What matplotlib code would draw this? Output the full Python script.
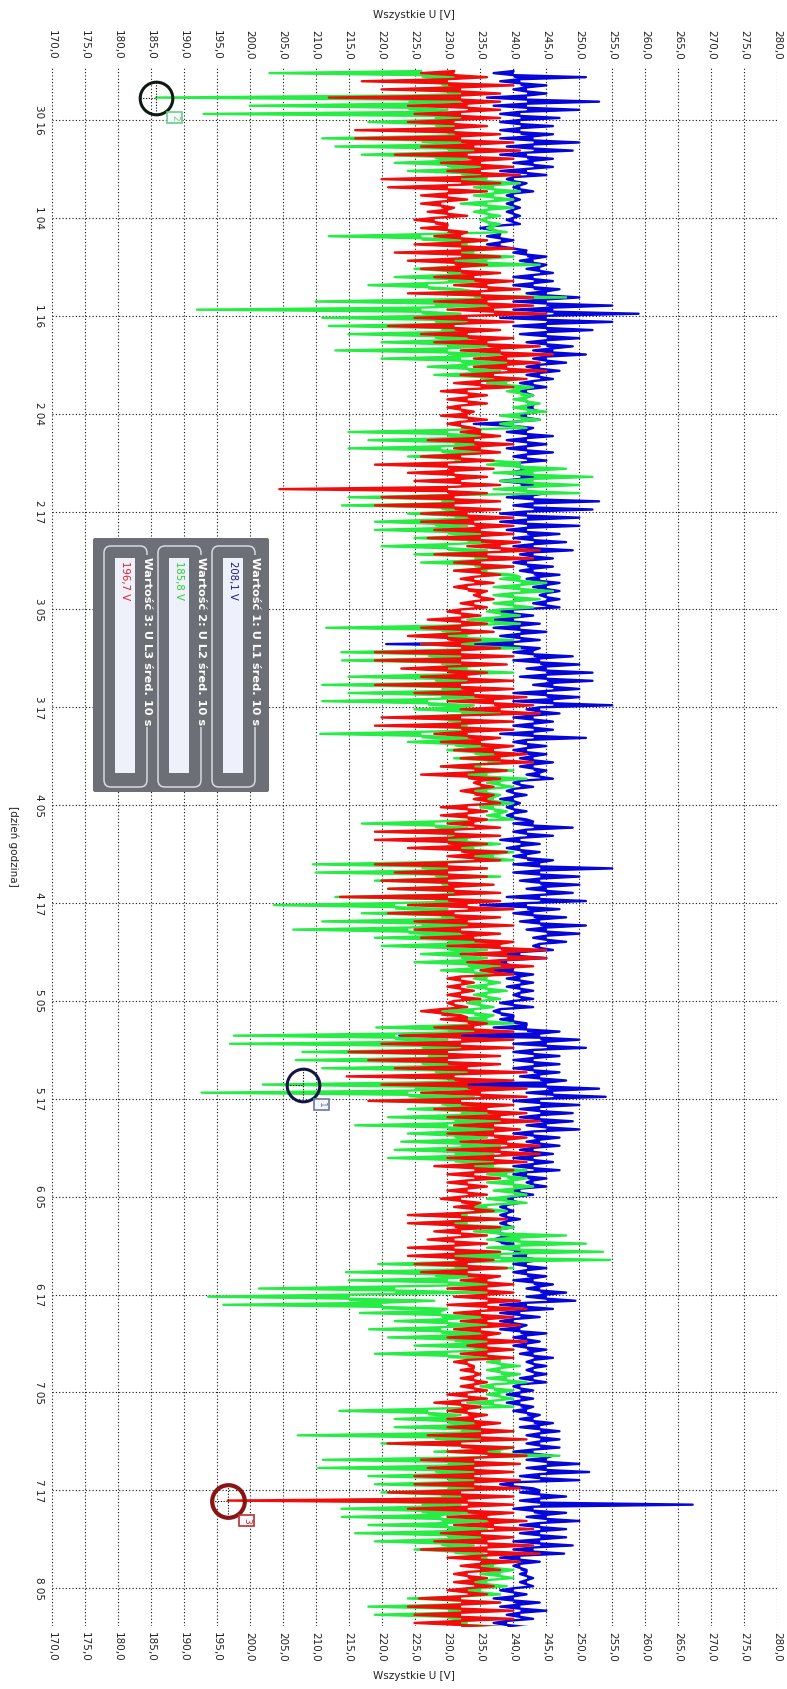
import numpy as np
import matplotlib
matplotlib.use("Agg")
import matplotlib.pyplot as plt
from matplotlib.patches import FancyBboxPatch, Rectangle
from matplotlib.transforms import Affine2D

# ---------------------------------------------------------------------------
# 10 s averaged phase voltages per hour (hours counted from "30 16"):
# minimum, typical level and maximum of each phase
# ---------------------------------------------------------------------------
hours = list(range(-6, 185))

u1_min = [237, 238, 240, 236, 237, 238, 238, 238, 238, 239, 238, 240,
          238, 239, 240, 239, 239, 239, 239, 235, 236, 236, 240, 241,
          242, 240, 240, 242, 240, 240, 238, 240, 241, 242, 243, 243,
          242, 242, 241, 241, 241, 242, 240, 234, 239, 239, 239, 240,
          239, 239, 238, 240, 239, 240, 238, 238, 239, 240, 240, 241,
          240, 241, 242, 243, 244, 243, 237, 236, 237, 238, 220.7, 240,
          240, 242, 241, 243, 240, 240, 242, 240, 240, 238, 240, 240,
          241, 241, 242, 240, 239, 238, 239, 239, 240, 240, 238, 239,
          240, 240, 240, 241, 242, 239, 235, 240, 241, 242, 243, 243,
          238, 237, 237, 239, 239, 240, 238, 237, 238, 237, 222.7, 240,
          240, 240, 240, 241, 208.1, 242, 240, 241, 241, 242, 240, 242,
          241, 240, 240, 240, 242, 240, 239, 238, 238, 238, 236, 237,
          238, 240, 240, 240, 240, 242, 242, 238, 238, 238, 238, 240,
          240, 241, 242, 242, 241, 240, 239, 239, 240, 241, 241, 242,
          242, 240, 242, 242, 241, 238, 241, 241, 240, 242, 241, 241,
          240, 240, 238, 240, 241, 241, 238, 237, 238, 239, 237]
u1_mid = [240, 241, 242, 242, 242, 241, 241, 241, 243, 243, 242, 243,
          242, 240, 241, 240, 240, 240, 240, 237, 238, 238, 242, 243,
          244, 243, 243, 245, 245, 246, 245, 245, 245, 245, 246, 245,
          244, 244, 243, 242, 242, 243, 242, 240, 242, 242, 242, 242,
          241, 241, 241, 242, 243, 243, 242, 242, 242, 243, 243, 243,
          242, 243, 244, 245, 245, 245, 240, 240, 241, 241, 240, 243,
          244, 245, 245, 246, 245, 246, 244, 243, 243, 243, 242, 242,
          243, 243, 244, 241, 240, 240, 240, 240, 243, 242, 241, 241,
          242, 244, 244, 244, 245, 244, 242, 243, 244, 245, 245, 244,
          241, 239, 240, 241, 241, 241, 240, 238, 240, 242, 244, 245,
          243, 243, 243, 244, 245, 246, 244, 244, 244, 245, 243, 244,
          243, 243, 243, 242, 243, 241, 240, 239, 239, 239, 238, 238,
          240, 242, 242, 242, 243, 244, 245, 242, 241, 240, 241, 242,
          242, 243, 243, 243, 243, 241, 241, 241, 242, 243, 244, 244,
          244, 243, 245, 245, 244, 240, 244, 244, 243, 245, 244, 244,
          244, 243, 241, 241, 242, 242, 240, 240, 241, 241, 239]
u1_max = [251, 245, 245, 253, 250, 247, 246, 246, 250, 249, 246, 246,
          245, 242, 243, 241, 241, 241, 241, 238, 240, 240, 245, 245,
          246, 246, 247, 250, 255, 259, 255, 252, 250, 249, 251, 248,
          247, 246, 245, 243, 243, 244, 244, 243, 246, 245, 246, 245,
          244, 244, 244, 245, 253, 252, 250, 250, 247, 248, 249, 246,
          246, 247, 247, 247, 247, 247, 243, 244, 245, 244, 244, 249,
          250, 252, 252, 250, 250, 255, 247, 246, 246, 251, 245, 245,
          246, 245, 246, 243, 242, 241, 242, 242, 249, 246, 244, 244,
          246, 255, 250, 250, 249, 251, 247, 248, 251, 250, 248, 246,
          245, 240, 243, 243, 243, 243, 243, 240, 242, 247, 250, 251,
          247, 247, 247, 248, 253, 254, 250, 249, 249, 250, 247, 247,
          246, 246, 247, 245, 245, 243, 241, 240, 241, 240, 240, 240,
          242, 244, 245, 245, 246, 248, 249.4, 246, 244, 242, 245, 244,
          245, 246, 245, 245, 245, 243, 243, 243, 244, 246, 247, 247,
          247, 246, 250, 251.5, 250, 243, 248, 267.2, 248, 250, 248, 248,
          249, 247.7, 244, 242, 243, 243, 242, 244, 245, 243, 242]

u2_min = [203, 222, 223, 185.8, 200, 193, 218, 221, 211, 213, 217, 222,
          224, 231, 234, 234, 232, 234, 235, 236, 212, 228, 229, 230,
          225, 222, 218, 227, 210, 192, 211, 212, 215, 220, 213, 220,
          227, 228, 236, 239, 240, 240, 238, 238, 215, 218, 215, 224,
          236, 237, 238, 237, 215, 214, 224, 219, 219, 225, 220, 225,
          226, 231, 238, 237, 237, 237, 236, 233, 211.6, 225, 226, 213.9,
          214, 224, 215, 211, 215, 211, 225, 223, 227, 210.7, 224, 230,
          231, 229, 228, 236, 234, 234, 235, 236, 217, 222, 227, 226,
          233, 209.6, 210, 219, 221, 213, 203.7, 217, 211, 206.6, 219, 220,
          226, 225, 229, 234, 233, 234, 233, 229, 230, 219.2, 197.6, 197,
          208, 207, 211, 220, 202, 192.7, 219, 224, 221, 216, 224, 223,
          222, 221, 230, 236, 236, 237, 236, 233, 226, 225, 234, 236,
          236, 226, 219.5, 214.6, 215, 201.4, 193.7, 196, 216.7, 222, 218.1, 221,
          225, 219, 236, 236, 236, 235, 236, 233, 213.6, 222, 222, 207.3,
          220, 228, 211.1, 210.4, 218, 219, 220, 210, 213.9, 214, 218, 216,
          219, 225, 233, 234, 235, 233, 232, 224, 218, 219, 228]
u2_mid = [226, 229, 230, 224, 224, 228, 228, 230, 226, 230, 228, 230,
          232, 236, 237, 237, 236, 236, 236, 237, 226, 233, 234, 236,
          230, 230, 227, 234, 228, 226, 228, 229, 228, 230, 230, 232,
          233, 235, 239, 241, 242, 242, 241, 240, 230, 231, 229, 231,
          241, 243, 243, 242, 229, 229, 231, 228, 230, 233, 230, 234,
          234, 236, 241, 241, 240, 240, 238, 237, 229, 233, 234, 227,
          229, 233, 228, 229, 229, 227, 232, 230, 233, 226, 231, 234,
          236, 235, 236, 238, 236, 237, 237, 238, 228, 230, 233, 234,
          237, 226, 228, 229, 230, 228, 222, 229, 226, 224, 230, 230,
          232, 233, 234, 236, 236, 236, 235, 234, 236, 230, 222, 226,
          227, 226, 228, 230, 225, 224, 229, 232, 231, 230, 231, 232,
          231, 231, 237, 239, 240, 240, 239, 236, 233, 233, 238, 241,
          241, 238, 231, 228, 230, 222, 215, 220, 229, 230, 229, 231,
          234, 230, 238, 238, 239, 237, 238, 237, 227, 230, 232, 228,
          232, 238, 230, 228, 230, 230, 229, 226, 226, 229, 230, 230,
          229, 231, 236, 237, 238, 236, 235, 232, 230, 230, 233]
u2_max = [232, 236, 236, 232, 230, 235, 234, 236, 233, 238, 233, 235,
          236, 241, 241, 240, 240, 238, 238, 239, 236, 238, 240, 244,
          234, 236, 232, 248, 236, 232, 235, 237, 234, 236, 238, 240,
          238, 241, 243, 243, 244, 245, 244, 242, 236, 238, 236, 236,
          248, 252, 250, 250, 236, 236, 236, 233, 236, 238, 236, 240,
          240, 240, 245, 246, 244, 243, 241, 241, 236, 240, 241, 234,
          238, 240, 235, 238, 236, 234, 238, 236, 238, 234, 236, 238,
          240, 240, 242, 240, 238, 240, 239, 240, 233, 235, 238, 240,
          240, 236, 238, 235, 236, 236, 230, 236, 235, 234, 238, 236,
          236, 238, 237, 238, 239, 238, 237, 237, 240, 236, 230, 238,
          236, 236, 236, 236, 234, 234, 236, 238, 238, 238, 236, 238,
          237, 238, 242, 242, 243, 242, 242, 239, 238, 240, 248, 251,
          253.6, 254.7, 240, 236, 238, 236, 228, 230, 236, 236, 236, 238,
          240, 236, 241, 241, 242, 240, 240, 240, 232, 236, 240, 236,
          240, 247, 240, 236, 236, 236, 234, 232, 234, 236, 236, 237,
          234, 235, 239, 240, 240, 239, 238, 238, 238, 236, 238]

u3_min = [226, 217, 220, 212, 224, 225, 224, 216, 216, 226, 222, 229,
          230, 220, 221, 226, 226, 227, 225, 226, 228, 225, 222, 224,
          226, 228, 231, 224, 228, 230, 225, 221, 226, 228, 232, 234,
          234, 232, 231, 229, 230, 230, 229, 230, 232, 227, 231, 226,
          219, 224, 225, 204.5, 220, 219, 226, 226, 228, 227, 233, 228,
          231, 231, 232, 231, 234, 232, 230, 227, 226, 224, 226, 219,
          219, 223, 226, 219, 225, 230, 232, 220, 219, 228, 229, 231,
          232, 229, 226, 234, 232, 234, 229, 229, 230, 219, 219, 224,
          230, 219, 222, 220, 221, 213.7, 224, 221, 225, 225, 226, 230,
          232, 233, 235, 230, 230, 230, 230, 226, 229, 228, 223, 220,
          215, 218, 222, 214.7, 220, 226, 218, 228, 230, 231, 230, 232,
          230, 230, 228, 230, 230, 230, 229, 231, 224, 224, 228, 227,
          224, 224, 225, 226, 232, 230, 231, 230, 231, 232, 231, 230,
          233, 232, 231, 232, 232, 232, 230, 228, 230, 230, 230, 227,
          220.9, 230, 226, 227, 225, 225, 221, 196.7, 224, 230, 231, 229,
          228, 226, 230, 232, 231, 231, 230, 225.7, 224, 225, 225]
u3_mid = [231, 230, 232, 232, 233, 232, 231, 231, 232, 234, 233, 235,
          235, 232, 230, 230, 229, 230, 228, 230, 232, 232, 232, 231,
          232, 234, 236, 235, 236, 237, 233, 231, 233, 236, 238, 239,
          239, 237, 235, 233, 233, 232, 233, 232, 235, 234, 235, 232,
          230, 231, 232, 230, 231, 231, 233, 234, 235, 235, 238, 236,
          235, 235, 234, 233, 235, 234, 232, 232, 232, 230, 232, 232,
          232, 230, 233, 232, 234, 237, 238, 232, 232, 233, 235, 237,
          238, 234, 233, 235, 234, 236, 233, 233, 234, 231, 230, 232,
          234, 230, 230, 230, 231, 230, 233, 231, 233, 232, 234, 238,
          239, 238, 237, 232, 232, 232, 231, 229, 233, 234, 232, 232,
          230, 230, 233, 231, 233, 235, 232, 236, 238, 237, 237, 239,
          238, 237, 234, 234, 233, 233, 232, 234, 232, 231, 232, 231,
          231, 231, 233, 233, 236, 236, 236, 236, 235, 236, 235, 236,
          236, 236, 233, 234, 234, 234, 233, 232, 233, 234, 235, 235,
          232, 236, 234, 234, 234, 234, 232, 233, 233, 236, 237, 235,
          236, 236, 235, 235, 233, 234, 233, 232, 232, 232, 232]
u3_max = [236, 240, 238, 238, 238, 238, 236, 238, 240, 241, 240, 240,
          241, 238, 236, 233, 231, 233, 230, 233, 236, 240, 238, 236,
          238, 240, 241, 243, 243, 245, 240, 238, 240, 244, 246, 244,
          245, 242, 240, 236, 236, 234, 236, 234, 238, 240, 238, 237,
          237, 236, 238, 236, 238, 238, 240, 240, 240, 241, 244, 243,
          240, 238, 237, 236, 237, 236, 235, 236, 237, 235, 238, 240,
          239, 236, 240, 240, 242, 243, 244, 240, 240, 238, 240, 242,
          243, 239, 238, 237, 237, 238, 236, 236, 238, 238, 236, 239,
          238, 236, 236, 237, 238, 238, 240, 238, 240, 238, 240, 245,
          245, 243, 240, 234, 234, 235, 233, 232, 236, 240, 240, 240,
          238, 238, 242, 240, 242, 242, 240, 242, 244, 241, 242, 244,
          244, 242, 240, 238, 236, 236, 235, 237, 239, 238, 236, 236,
          238, 237, 239, 238, 240, 240, 241, 242, 240, 241, 238, 242,
          240, 240, 234, 235, 236, 236, 236, 235, 236, 238, 240, 242,
          240, 242, 241, 240, 241, 241, 240, 240, 240, 242, 243, 240,
          243, 244, 241, 238, 236, 237, 236, 238, 240, 240, 238]

time_ticks = [0, 12, 24, 36, 48, 60, 72, 84, 96, 108, 120, 132, 144, 156, 168, 180]
time_labels = ["30 16", "1 04", "1 16", "2 04", "2 17", "3 05", "3 17", "4 05",
               "4 17", "5 05", "5 17", "6 05", "6 17", "7 05", "7 17", "8 05"]
volt_ticks = [170, 175, 180, 185, 190, 195, 200, 205, 210, 215, 220, 225,
              230, 235, 240, 245, 250, 255, 260, 265, 270, 275, 280]

series = [
    ("U L1", u1_min, u1_mid, u1_max, "#0606dc"),
    ("U L2", u2_min, u2_mid, u2_max, "#28ec46"),
    ("U L3", u3_min, u3_mid, u3_max, "#f40c0c"),
]

# cursor readouts: (number, series index, hour, circle colour, box edge colour)
cursors = [
    (1, 0, 118, "#141446", "#6a78a8"),
    (2, 1, -3, "#0c1a10", "#6ccc88"),
    (3, 2, 169, "#8a1414", "#b83030"),
]
cursor_text_colors = ["#1a1a90", "#2bd02b", "#e02020"]

# ---------------------------------------------------------------------------
W, H = 787, 1689
fig = plt.figure(figsize=(W / 100, H / 100), dpi=100)
fig.patch.set_facecolor("white")

ax_top, ax_bot, ax_left, ax_right = 66, 1626, 52, 777
ax = fig.add_axes([ax_left / W, 1 - ax_bot / H, (ax_right - ax_left) / W,
                   (ax_bot - ax_top) / H])
px_per_hour = 8.157
ax.set_xlim(170, 280)
ax.set_ylim((ax_bot - 120) / px_per_hour, (ax_top - 120) / px_per_hour)

for s in ax.spines.values():
    s.set_visible(False)

ax.set_xticks(volt_ticks)
ax.set_xticklabels([f"{v:.1f}".replace(".", ",") for v in volt_ticks])
ax.set_yticks(time_ticks)
ax.set_yticklabels(time_labels)
ax.tick_params(axis="x", which="both", length=0, labeltop=True, labelbottom=True,
               labelrotation=-90, labelsize=7.5, pad=4.5, colors="#222222")
ax.tick_params(axis="y", length=0, labelrotation=-90, labelsize=7.5, pad=6,
               colors="#222222")
for lab in ax.get_yticklabels():
    lab.set_va("center")
ax.grid(True, linestyle=(0, (1, 2)), color="#111111", linewidth=0.8)
ax.set_axisbelow(True)

# each hour the trace swings from its typical level down to the minimum,
# back, up to the maximum and back again; the swings are filled
for name, lo, mid, hi, col in series:
    n = len(hours)
    t = np.empty(4 * n)
    v = np.empty(4 * n)
    base = np.repeat(np.asarray(mid, dtype=float), 4)
    h = np.asarray(hours, dtype=float)
    t[0::4], t[1::4], t[2::4], t[3::4] = h, h + 0.25, h + 0.5, h + 0.75
    v[0::4], v[1::4], v[2::4], v[3::4] = mid, lo, mid, hi
    ax.fill_betweenx(t, v, base, color=col, linewidth=0, zorder=3)
    ax.plot(v, t, color=col, linewidth=1.7, solid_joinstyle="round",
            zorder=3)

# cursor markers (at the hourly minimum sample)
for num, si, hr, ccol, ecol in cursors:
    val = series[si][1][hours.index(hr)]
    tt = hr + 0.25
    ax.plot([val - 2.4, val], [tt, tt], linestyle=(0, (1, 1.5)), color="black",
            linewidth=0.8, zorder=5)
    ax.plot([val, val], [tt - 1.9, tt + 1.9], linestyle=(0, (1, 1.5)),
            color="black", linewidth=0.8, zorder=5)
    ax.plot([val], [tt], "o", markersize=23.5, markerfacecolor="none",
            markeredgecolor=ccol, markeredgewidth=2.2 if num != 3 else 3.0,
            zorder=6)
    ax.annotate(str(num), xy=(val, tt), xytext=(13.3, -14.5),
                textcoords="offset points", ha="center", va="center",
                rotation=-90, fontsize=6.5, color=ecol, zorder=7,
                bbox=dict(boxstyle="square,pad=0.3", fc="#f6f7fb", ec=ecol,
                          lw=1.2))

# axis titles
pix = Affine2D().scale(1, -1).translate(0, H)
fig.text(414, 15, "Wszystkie U [V]", transform=pix, ha="center", va="center",
         fontsize=7.5, color="#222222")
fig.text(414, 1676, "Wszystkie U [V]", transform=pix, ha="center",
         va="center", fontsize=7.5, color="#222222")
fig.text(13, 846, "[dzień godzina]", transform=pix, ha="center", va="center",
         rotation=-90, fontsize=7.5, color="#222222")

# cursor readout panel
panel_grey = "#6d6f77"
fig.patches.append(FancyBboxPatch((93, 538), 176, 254,
                                  boxstyle="round,pad=0,rounding_size=2",
                                  transform=pix, fc=panel_grey, ec="none",
                                  zorder=10))
groups = [
    (212, 255, "Wartość 1: U L1 śred. 10 s"),
    (158, 201, "Wartość 2: U L2 śred. 10 s"),
    (104, 147, "Wartość 3: U L3 śred. 10 s"),
]
for (xl, xr, caption), (num, si, hr, _, _), tcol in zip(groups, cursors,
                                                       cursor_text_colors):
    val = series[si][1][hours.index(hr)]
    fig.patches.append(FancyBboxPatch((xl, 546), xr - xl, 241,
                                      boxstyle="round,pad=0,rounding_size=7",
                                      transform=pix, fc="none", ec="#d9dae0",
                                      lw=1.1, zorder=11))
    fig.patches.append(Rectangle((xl + 11, 558), 20, 215, transform=pix,
                                 fc="#eef0fb", ec="none", zorder=11))
    fig.text(xr, 557, caption, transform=pix, ha="center", va="top",
             rotation=-90, fontsize=8.2, fontweight="bold", color="white",
             zorder=12, bbox=dict(fc=panel_grey, ec="none", pad=1.2))
    fig.text(xl + 21, 561, f"{val:.1f}".replace(".", ",") + " V",
             transform=pix, ha="center", va="top", rotation=-90,
             fontsize=7.3, color=tcol, zorder=12)

fig.savefig("out.png", dpi=100, facecolor="white")
